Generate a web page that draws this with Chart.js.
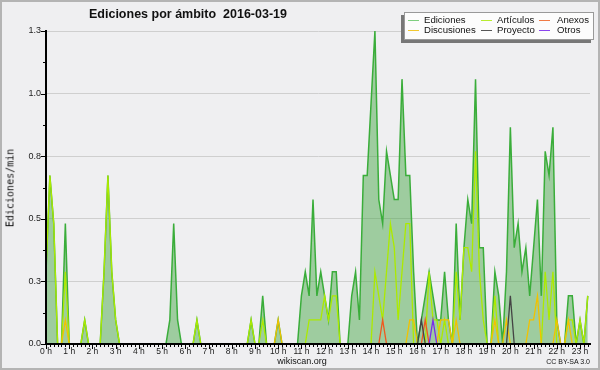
<!DOCTYPE html>
<html>
<head>
<meta charset="utf-8">
<script src="https://cdn.jsdelivr.net/npm/chart.js@4.4.1/dist/chart.umd.min.js"></script>
<style>
  html, body { margin: 0; padding: 0; background: #efeff1; }
  #wrap { position: relative; width: 600px; height: 370px; overflow: hidden; font-family: "Liberation Sans", Arial, sans-serif; color: #111; }
  #frame { position: absolute; left: 0; top: 0; width: 600px; height: 370px; box-sizing: border-box; border: 2px solid #b4b4b4; pointer-events: none; }
  canvas { position: absolute; left: 0; top: 0; }
  #title { position: absolute; left: 188px; top: 7px; transform: translateX(-50%); font: bold 12.5px "Liberation Sans", Arial, sans-serif; white-space: pre; }
  #ylab { position: absolute; left: 10px; top: 188px; transform: translate(-50%, -50%) rotate(-90deg); font: 10px "DejaVu Sans Mono", monospace; white-space: nowrap; }
  #legend { position: absolute; left: 404px; top: 12px; width: 190px; height: 28px; box-sizing: border-box; border: 1px solid #999; background: #fcfcfc; box-shadow: -3px 3px 0 #777; }
  .lk { position: absolute; width: 11px; height: 1px; }
  .lt { position: absolute; font-size: 9.6px; line-height: 10px; white-space: nowrap; transform: translateY(-50%); }
  #src { position: absolute; left: 302px; top: 356px; transform: translateX(-50%); font-size: 9px; }
  #lic { position: absolute; right: 10px; top: 358px; font-size: 7px; }
</style>
</head>
<body>
<div id="wrap">
  <canvas id="chart" width="600" height="370"></canvas>
  <div id="title">Ediciones por ámbito  2016-03-19</div>
  <div id="ylab">Ediciones/min</div>
  <div id="legend"></div>
  <div id="src">wikiscan.org</div>
  <div id="lic">CC BY-SA 3.0</div>
  <div id="frame"></div>
</div>
<script>
// ——— DATA ——— (one value per 10 minutes, edits/min)
const hourLabels = ['0 h','1 h','2 h','3 h','4 h','5 h','6 h','7 h','8 h','9 h','10 h','11 h',
                    '12 h','13 h','14 h','15 h','16 h','17 h','18 h','19 h','20 h','21 h','22 h','23 h'];
const yTickLabels = ['0.0', '0.3', '0.5', '0.8', '1.0', '1.3'];

const ediciones = [
  0.3,0.7,0.5,0,0,0.5,   0,0,0,0,0.1,0,
  0,0,0,0.3,0.7,0.3,     0.1,0,0,0,0,0,
  0,0,0,0,0,0,           0,0,0.1,0.5,0.1,0,
  0,0,0,0.1,0,0,         0,0,0,0,0,0,
  0,0,0,0,0,0.1,         0,0,0.2,0,0,0,
  0.1,0,0,0,0,0,         0.2,0.3,0.2,0.6,0.2,0.3,
  0.2,0.1,0.3,0.3,0,0,   0,0.2,0.3,0.1,0.7,0.7,
  1.0,1.3,0.6,0.5,0.8,0.7, 0.6,0.6,1.1,0.7,0.7,0.3,
  0,0.1,0.2,0.3,0.2,0.1, 0.1,0.3,0.1,0,0.5,0.1,
  0.4,0.6,0.5,1.1,0.4,0.4, 0,0,0.3,0.2,0,0.3,
  0.9,0.4,0.5,0.3,0.4,0.2, 0.4,0.6,0.2,0.8,0.7,0.9,
  0.1,0,0,0.2,0.2,0,     0.1,0,0.2
];
const articulos = [
  0.3,0.7,0.5,0,0,0.3,   0,0,0,0,0.1,0,
  0,0,0,0.3,0.7,0.3,     0.1,0,0,0,0,0,
  0,0,0,0,0,0,           0,0,0,0,0,0,
  0,0,0,0.1,0,0,         0,0,0,0,0,0,
  0,0,0,0,0,0.1,         0,0,0.1,0,0,0,
  0,0,0,0,0,0,           0,0,0.1,0.1,0.1,0.1,
  0.2,0.1,0.2,0.2,0,0,   0,0,0,0,0,0,
  0,0.3,0.2,0.1,0.3,0.5, 0.4,0.1,0.3,0.5,0.5,0,
  0,0,0,0.3,0.1,0.1,     0,0.1,0,0,0.3,0.1,
  0.4,0.4,0.3,0.8,0.3,0.1, 0,0,0.2,0,0,0,
  0,0,0,0,0,0,           0,0,0,0.3,0.1,0.3,
  0,0,0,0.1,0.1,0,       0.1,0,0.2
];
const discusiones = [
  0,0,0,0,0,0.1,         0,0,0,0,0,0,
  0,0,0,0,0,0,           0,0,0,0,0,0,
  0,0,0,0,0,0,           0,0,0,0,0,0,
  0,0,0,0,0,0,           0,0,0,0,0,0,
  0,0,0,0,0,0,           0,0,0,0,0,0,
  0.1,0,0,0,0,0,         0,0,0,0,0,0,
  0,0,0,0,0,0,           0,0,0,0,0,0,
  0,0,0,0,0,0,           0,0,0,0,0.1,0.1,
  0,0,0,0,0,0,           0.1,0.1,0.1,0,0.1,0,
  0,0,0,0,0,0,           0,0,0.1,0,0,0.1,
  0,0,0,0,0,0.1,         0.1,0.2,0,0,0,0,
  0.1,0,0,0.1,0,0,       0,0,0
];
const anexos = [
  0,0,0,0,0,0, 0,0,0,0,0,0,  0,0,0,0,0,0, 0,0,0,0,0,0,
  0,0,0,0,0,0, 0,0,0,0,0,0,  0,0,0,0,0,0, 0,0,0,0,0,0,
  0,0,0,0,0,0, 0,0,0,0,0,0,  0,0,0,0,0,0, 0,0,0,0,0,0,
  0,0,0,0,0,0, 0,0,0,0,0,0,  0,0,0,0.1,0,0, 0,0,0,0,0,0,
  0,0,0.1,0,0,0, 0,0,0,0,0,0, 0,0,0,0,0,0, 0,0,0,0,0,0,
  0,0,0,0,0,0, 0,0,0,0,0,0,  0,0,0,0,0,0, 0,0,0
];
const proyecto = [
  0,0,0,0,0,0, 0,0,0,0,0,0,  0,0,0,0,0,0, 0,0,0,0,0,0,
  0,0,0,0,0,0, 0,0,0,0,0,0,  0,0,0,0,0,0, 0,0,0,0,0,0,
  0,0,0,0,0,0, 0,0,0,0,0,0,  0,0,0,0,0,0, 0,0,0,0,0,0,
  0,0,0,0,0,0, 0,0,0,0,0,0,  0,0,0,0,0,0, 0,0,0,0,0,0,
  0,0.1,0,0,0,0, 0,0,0,0,0,0, 0,0,0,0,0,0, 0,0,0,0,0,0,
  0.2,0,0,0,0,0, 0,0,0,0,0,0, 0,0,0,0,0,0, 0,0,0
];
const otros = [
  0,0,0,0,0,0, 0,0,0,0,0,0,  0,0,0,0,0,0, 0,0,0,0,0,0,
  0,0,0,0,0,0, 0,0,0,0,0,0,  0,0,0,0,0,0, 0,0,0,0,0,0,
  0,0,0,0,0,0, 0,0,0,0,0,0,  0,0,0,0,0,0, 0,0,0,0,0,0,
  0,0,0,0,0,0, 0,0,0,0,0,0,  0,0,0,0,0,0, 0,0,0,0,0,0,
  0,0,0,0,0.1,0, 0,0,0,0,0,0, 0,0,0,0,0,0, 0,0,0,0,0,0,
  0,0,0,0,0,0, 0,0,0,0,0,0,  0,0,0,0,0,0, 0,0,0
];

// ——— SERIES ———
const series = [
  { label: 'Ediciones',   data: ediciones,   color: '#3aad3a', key: '#7fcf7f', col: 0, row: 0 },
  { label: 'Artículos',   data: articulos,   color: '#acea00', key: '#b8ec30', col: 1, row: 0 },
  { label: 'Anexos',      data: anexos,      color: '#f0581e', key: '#f07a45', col: 2, row: 0 },
  { label: 'Discusiones', data: discusiones, color: '#f2c200', key: '#f2c830', col: 0, row: 1 },
  { label: 'Proyecto',    data: proyecto,    color: '#444444', key: '#555555', col: 1, row: 1 },
  { label: 'Otros',       data: otros,       color: '#7a2ee8', key: '#8a45ee', col: 2, row: 1 }
];
const drawOrder = { 'Ediciones': 6, 'Artículos': 5, 'Discusiones': 4, 'Anexos': 3, 'Proyecto': 2, 'Otros': 1 };

// ——— LEGEND ———
const keyX = [3, 76, 134], textX = [19, 92, 152], rowY = [7, 17];
const legend = document.getElementById('legend');
series.forEach(s => {
  legend.innerHTML += `<div class="lk" style="left:${keyX[s.col]}px;top:${rowY[s.row]}px;background:${s.key}"></div>` +
    `<div class="lt" style="left:${textX[s.col]}px;top:${rowY[s.row]}px">${s.label}</div>`;
});

// ——— TICK MARKS ———
const tickMarks = {
  id: 'tickMarks',
  afterDraw(chart) {
    const { ctx, chartArea, scales: { x, y } } = chart;
    ctx.save();
    ctx.strokeStyle = '#000';
    ctx.lineWidth = 1;
    ctx.beginPath();
    x.ticks.forEach((t, i) => {
      const px = Math.round(x.getPixelForValue(t.value)) + 0.5;
      ctx.moveTo(px, chartArea.bottom);
      ctx.lineTo(px, chartArea.bottom + (i % 6 === 0 ? 5 : 3));
    });
    y.ticks.forEach((t, i) => {
      const py = Math.round(y.getPixelForValue(t.value)) + 0.5;
      ctx.moveTo(chartArea.left, py);
      ctx.lineTo(chartArea.left - (i % 2 === 0 ? 5 : 3), py);
    });
    ctx.stroke();
    ctx.restore();
  }
};

// ——— CHART ———
new Chart(document.getElementById('chart').getContext('2d'), {
  type: 'line',
  data: {
    datasets: series.map((s, si) => ({
      label: s.label,
      data: s.data.map((v, i) => ({ x: i / 6, y: v })),
      borderColor: s.color,
      borderWidth: si === 0 ? 1.5 : 1.3,
      backgroundColor: si === 0 ? 'rgba(70,165,70,0.48)' : s.color,
      fill: si === 0 ? 'origin' : false,
      tension: 0,
      pointRadius: 0,
      order: drawOrder[s.label]
    }))
  },
  options: {
    responsive: false,
    animation: false,
    layout: { padding: { top: 31, right: 10, left: 0, bottom: 0 } },
    plugins: { legend: { display: false }, tooltip: { enabled: false }, title: { display: false } },
    scales: {
      x: {
        type: 'linear',
        min: 0,
        max: 23.43,
        afterBuildTicks: (scale) => {
          scale.ticks = ediciones.map((_, i) => ({ value: i / 6 }));
        },
        afterFit: (scale) => { scale.height = 26; },
        grid: { display: false, drawTicks: false },
        border: { display: true, color: '#000', width: 2, z: 1 },
        ticks: {
          autoSkip: false,
          maxRotation: 0,
          padding: 3,
          color: '#222',
          font: { family: '"Liberation Sans", Arial, sans-serif', size: 8.5 },
          callback: (v, i) => (i % 6 === 0 ? hourLabels[i / 6] : '')
        }
      },
      y: {
        min: 0,
        max: 1.3,
        afterBuildTicks: (scale) => {
          scale.ticks = [0,1,2,3,4,5,6,7,8,9,10].map(k => ({ value: k * 0.13 }));
        },
        afterFit: (scale) => { scale.width = 46; },
        grid: {
          drawTicks: false,
          color: (ctx) => (ctx.index % 2 === 0 && ctx.index > 0 ? '#cfcfcf' : 'rgba(0,0,0,0)'),
          lineWidth: 1
        },
        border: { display: true, color: '#000', width: 2, z: 1 },
        ticks: {
          autoSkip: false,
          padding: 5,
          color: '#222',
          font: { family: '"Liberation Sans", Arial, sans-serif', size: 9 },
          callback: (v, i) => (i % 2 === 0 ? yTickLabels[i / 2] : '')
        }
      }
    }
  },
  plugins: [tickMarks]
});
</script>
</body>
</html>
